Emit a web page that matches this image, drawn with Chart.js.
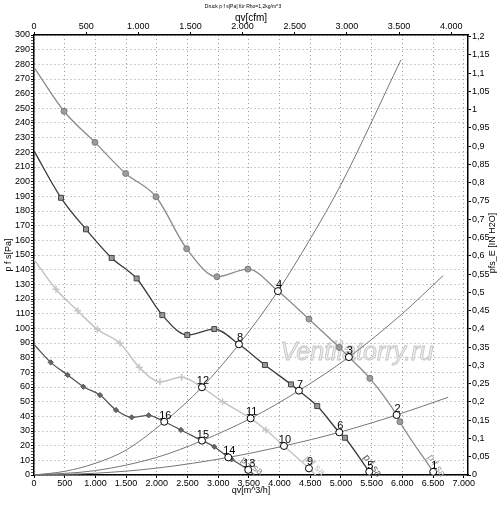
<!DOCTYPE html>
<html>
<head>
<meta charset="utf-8">
<title>Druck p f s[Pa]</title>
<script src="https://cdn.jsdelivr.net/npm/chart.js@4.4.1/dist/chart.umd.min.js"></script>
<style>
  html, body { margin: 0; padding: 0; background: #fff; }
  canvas { display: block; }
</style>
</head>
<body>
<canvas id="kennlinie" width="500" height="505"></canvas>
<script>
// Achsenbereich und Umrechnungen
const QV_MAX = 7070;        // m^3/h am rechten Rand
const PA_MAX = 300;
const CFM = 1.699;          // m^3/h je cfm
const PA_INH2O = 249.09;    // Pa je in H2O

// Teilstriche der Achsen
const qvTicks  = [0, 500, 1000, 1500, 2000, 2500, 3000, 3500, 4000, 4500, 5000, 5500, 6000, 6500, 7000];
const cfmTicks = [0, 500, 1000, 1500, 2000, 2500, 3000, 3500, 4000];

// Betriebspunkte 1..16
const opLabels = ['1', '2', '3', '4', '5', '6', '7', '8', '9', '10', '11', '12', '13', '14', '15', '16'];
const opQv = [6503, 5907, 5130, 3974, 5461, 4973, 4316, 3339, 4479, 4072, 3529, 2736, 3490, 3165, 2736, 2122];
const opP  = [2.2, 40.9, 80.4, 125.4, 2.3, 29.1, 57.5, 89.1, 4.5, 19.8, 38.6, 59.8, 3.5, 12, 23.4, 36.3];

// Kennlinie A (Kreise)
const qvA = [489, 993, 1493, 1987, 2487, 2980, 3485, 4479, 4973, 5472, 5961];
const pA  = [248, 226.8, 205.6, 189.7, 154.3, 135.2, 140.4, 106.3, 87, 65.9, 36.3];
const randA = [[0, 278], [6537, 0]];

// Kennlinie B (Quadrate)
const qvB = [440, 847, 1265, 1672, 2090, 2497, 2937, 3762, 4186, 4614, 5065];
const pB  = [189, 167.5, 148, 134, 109, 95.4, 99.5, 75, 61.8, 47, 25.4];
const randB = [[0, 221], [5503, 0]];

// Kennlinie C (Kreuze)
const qvC = [358, 711, 1031, 1401, 1715, 2052, 2405, 3073, 3779];
const pC  = [126.6, 112, 99.3, 89.8, 73.4, 63.6, 66.6, 50, 30.7];
const randC = [[0, 147], [4590, 0]];

// Kennlinie D (Rauten)
const qvD = [272, 548, 803, 1075, 1336, 1591, 1868, 2394, 2937, 3219];
const pD  = [76.8, 68.2, 60.2, 54.5, 44.3, 39.3, 40.7, 30.7, 19.3, 10.7];
const randD = [[0, 89], [3590, 0]];

// Anlagenkennlinien
const qvS1 = [0, 500, 1000, 1500, 4500, 5000];
const pS1  = [0, 2.5, 8, 17, 161, 198];
const randS1 = [[5977, 283]];
const qvS2 = [0, 1000, 2000, 6000];
const pS2  = [0, 3, 12, 110];
const randS2 = [[6666, 136]];
const qvS3 = [0, 1000, 2000];
const pS3  = [0, 1.2, 4.7];
const randS3 = [[6748, 53]];

function punkte(qv, p) {
  return qv.map((x, i) => ({ x: x, y: p[i] }));
}

// Linie durch Messpunkte, Betriebspunkte und Randpunkte, nach qv sortiert
function linie(qv, p, ops, rand) {
  const pts = punkte(qv, p)
    .concat(ops.map(i => ({ x: opQv[i], y: opP[i] })))
    .concat(rand.map(r => ({ x: r[0], y: r[1] })));
  return pts.sort((a, b) => a.x - b.x);
}

function tausender(v) {
  return String(Math.round(v)).replace(/\B(?=(\d{3})+(?!\d))/g, '.');
}

function komma(v) {
  return String(parseFloat(v.toFixed(2))).replace('.', ',');
}

const schrift = 'Liberation Sans';
Chart.defaults.font.family = schrift;
const tickFont = { family: schrift, size: 9 };

function kennlinie(data, farbe, breite, text, textFarbe) {
  return {
    data: data, borderColor: farbe, borderWidth: breite, pointRadius: 0,
    cubicInterpolationMode: 'monotone', fill: false, order: 2,
    beschriftung: text, textFarbe: textFarbe
  };
}

function marker(data, style, radius, fuellung, rand, breite) {
  return {
    data: data, showLine: false, pointStyle: style, pointRadius: radius,
    backgroundColor: fuellung, borderColor: rand, pointBorderWidth: breite, order: 1
  };
}

function anlage(data) {
  return {
    data: data, borderColor: '#767676', borderWidth: 1, pointRadius: 0,
    cubicInterpolationMode: 'monotone', fill: false, order: 3
  };
}

// Beschriftungen, Wasserzeichen und Titel
const deko = {
  id: 'deko',
  beforeDatasetsDraw(chart) {
    const ctx = chart.ctx;
    ctx.save();
    ctx.font = 'italic 25px "' + schrift + '"';
    ctx.textAlign = 'center';
    ctx.textBaseline = 'alphabetic';
    ctx.fillStyle = '#ededed';
    ctx.strokeStyle = '#c4c4c4';
    ctx.lineWidth = 0.8;
    ctx.fillText('Ventilatorry.ru', 357, 360);
    ctx.strokeText('Ventilatorry.ru', 357, 360);
    ctx.restore();
  },
  afterDatasetsDraw(chart) {
    const ctx = chart.ctx;
    // "p f sa" an den Kennlinienenden
    chart.data.datasets.forEach((ds, i) => {
      if (!ds.beschriftung) return;
      const pts = chart.getDatasetMeta(i).data;
      const a = pts[pts.length - 3], b = pts[pts.length - 1];
      ctx.save();
      ctx.translate(b.x, b.y);
      ctx.rotate(Math.atan2(b.y - a.y, b.x - a.x));
      ctx.font = '10px "' + schrift + '"';
      ctx.fillStyle = ds.textFarbe;
      ctx.textAlign = 'right';
      ctx.textBaseline = 'bottom';
      ctx.fillText(ds.beschriftung, 5, -1);
      ctx.restore();
    });
    // Nummern der Betriebspunkte
    const meta = chart.getDatasetMeta(0);
    ctx.save();
    ctx.font = '11px "' + schrift + '"';
    ctx.fillStyle = '#000';
    ctx.textAlign = 'center';
    ctx.textBaseline = 'alphabetic';
    meta.data.forEach((pt, i) => {
      ctx.fillText(opLabels[i], pt.x + 1, pt.y - 3);
    });
    ctx.restore();
  },
  afterDraw(chart) {
    const ctx = chart.ctx;
    ctx.save();
    ctx.fillStyle = '#000';
    ctx.textAlign = 'center';
    ctx.textBaseline = 'middle';
    ctx.font = '5px "' + schrift + '"';
    ctx.fillText('Druck p f s[Pa] für Rho=1,2kg/m^3', 243, 7);
    ctx.translate(493, 243);
    ctx.rotate(-Math.PI / 2);
    ctx.font = '9px "' + schrift + '"';
    ctx.fillText('pfs_E [IN H2O]', 0, 0);
    ctx.restore();
  }
};

const gridFarbe = '#9c9c9c';

new Chart(document.getElementById('kennlinie'), {
  type: 'line',
  data: {
    datasets: [
      {
        data: punkte(opQv, opP), showLine: false, pointStyle: 'circle', pointRadius: 3.5,
        backgroundColor: '#fff', borderColor: '#000', pointBorderWidth: 1, order: 0
      },
      marker(punkte(qvA, pA), 'circle', 3, '#9c9c9c', '#7a7a7a', 1),
      marker(punkte(qvB, pB), 'rect', 3.5, '#9a9a9a', '#444', 1),
      marker(punkte(qvC, pC), 'cross', 3.5, '#c6c6c6', '#c6c6c6', 1.5),
      marker(punkte(qvD, pD), 'rectRot', 2.6, '#666', '#555', 1),
      kennlinie(linie(qvA, pA, [0, 1, 2, 3], randA), '#8a8a8a', 1.3, 'p f sa', '#9a9a9a'),
      kennlinie(linie(qvB, pB, [4, 5, 6, 7], randB), '#3a3a3a', 1.3, 'p f sa', '#555'),
      kennlinie(linie(qvC, pC, [8, 9, 10, 11], randC), '#c4c4c4', 1.5, 'p f sa', '#bdbdbd'),
      kennlinie(linie(qvD, pD, [12, 13, 14, 15], randD), '#555', 1.3, 'p f sa', '#888'),
      anlage(linie(qvS1, pS1, [3, 7, 11, 15], randS1)),
      anlage(linie(qvS2, pS2, [2, 6, 10, 14], randS2)),
      anlage(linie(qvS3, pS3, [1, 5, 9, 13], randS3))
    ]
  },
  options: {
    responsive: false,
    animation: false,
    events: [],
    layout: { padding: 0 },
    plugins: { legend: { display: false }, tooltip: { enabled: false } },
    scales: {
      x: {
        type: 'linear', position: 'bottom', min: 0, max: QV_MAX,
        afterBuildTicks: s => { s.ticks = qvTicks.map(v => ({ value: v })); },
        ticks: {
          autoSkip: false, maxRotation: 0,
          padding: 0, color: '#000', font: tickFont, callback: v => tausender(v)
        },
        grid: { color: gridFarbe, tickColor: '#000', tickLength: 3, tickBorderDash: [] },
        border: { color: '#000', width: 1.5, dash: [1, 3] },
        title: { display: true, text: 'qv[m^3/h]', color: '#000', font: tickFont, padding: { top: 0, bottom: 9 } },
        afterFit: s => { s.height = 30; }
      },
      xTop: {
        type: 'linear', position: 'top', min: 0, max: QV_MAX / CFM,
        afterBuildTicks: s => { s.ticks = cfmTicks.map(v => ({ value: v })); },
        ticks: {
          autoSkip: false, maxRotation: 0,
          padding: 0, color: '#000', font: tickFont, callback: v => tausender(v)
        },
        grid: { drawOnChartArea: false, tickColor: '#000', tickLength: 3 },
        border: { color: '#000', width: 1.5 },
        title: { display: true, text: 'qv[cfm]', color: '#000', font: { family: schrift, size: 10 }, padding: { top: 12, bottom: 0 } },
        afterFit: s => { s.height = 35; }
      },
      y: {
        type: 'linear', position: 'left', min: 0, max: PA_MAX,
        ticks: {
          stepSize: 2, includeBounds: false, autoSkip: false, padding: 1,
          color: '#000', font: tickFont,
          callback: v => (v % 10 === 0 ? String(v) : '')
        },
        grid: {
          color: c => (c.tick && c.tick.value % 10 === 0 ? gridFarbe : 'rgba(0,0,0,0)'),
          tickColor: c => (c.tick && c.tick.value % 10 === 0 ? '#000' : '#555'),
          tickLength: 3, tickBorderDash: []
        },
        border: { color: '#000', width: 1.5, dash: [1, 3] },
        title: { display: true, text: 'p f s[Pa]', color: '#000', font: tickFont, padding: { top: 3, bottom: 0 } },
        afterFit: s => { s.width = 34; }
      },
      yRight: {
        type: 'linear', position: 'right', min: 0, max: PA_MAX / PA_INH2O,
        ticks: {
          stepSize: 0.05, includeBounds: false, autoSkip: false, padding: 1,
          color: '#000', font: tickFont, callback: v => komma(v)
        },
        grid: { drawOnChartArea: false, tickColor: '#000', tickLength: 3 },
        border: { color: '#000', width: 1.5 },
        afterFit: s => { s.width = 32; }
      }
    }
  },
  plugins: [deko]
});
</script>
</body>
</html>
